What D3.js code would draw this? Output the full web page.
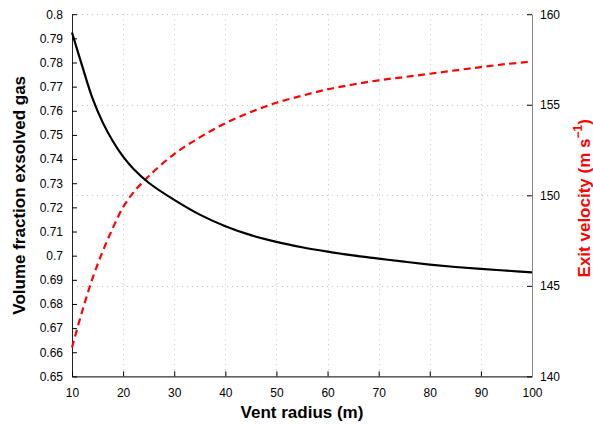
<!DOCTYPE html>
<html>
<head>
<meta charset="utf-8">
<script src="https://cdn.jsdelivr.net/npm/d3@7"></script>
<style>
  html, body { margin: 0; padding: 0; background: #fff; }
  svg { display: block; font-family: "Liberation Sans", Arial, Helvetica, sans-serif; }
</style>
</head>
<body>
<svg id="chart" width="593" height="426"></svg>
<script>
// Data
const ventRadius = [10, 12, 14, 16, 18, 20, 22, 25, 30, 35, 40, 45, 50, 55, 60, 65, 70, 75, 80, 85, 90, 95, 100];
const gasFraction = [0.7924, 0.7785, 0.7652, 0.7552, 0.7474, 0.7410, 0.7360, 0.7302, 0.7231, 0.7170, 0.7122, 0.7085, 0.7057, 0.7035, 0.7017, 0.7001, 0.6988, 0.6975, 0.6963, 0.6953, 0.6945, 0.6938, 0.6931];
const exitVelocity = [141.6, 143.6, 145.4, 146.9, 148.2, 149.35, 150.15, 151.05, 152.28, 153.2, 153.98, 154.6, 155.11, 155.5, 155.85, 156.12, 156.35, 156.53, 156.71, 156.90, 157.08, 157.25, 157.38];

const xTicks = [10, 20, 30, 40, 50, 60, 70, 80, 90, 100];
const yLeftTicks = [0.65, 0.66, 0.67, 0.68, 0.69, 0.70, 0.71, 0.72, 0.73, 0.74, 0.75, 0.76, 0.77, 0.78, 0.79, 0.80];
const yLeftLabels = ["0.65", "0.66", "0.67", "0.68", "0.69", "0.7", "0.71", "0.72", "0.73", "0.74", "0.75", "0.76", "0.77", "0.78", "0.79", "0.8"];
const yRightTicks = [140, 145, 150, 155, 160];

const xLabel = "Vent radius (m)";
const yLeftLabel = "Volume fraction exsolved gas";

(function () {
const svg = d3.select("#chart");
const pL = 72, pR = 532, pT = 14.2, pB = 376.4;

const x = d3.scaleLinear().domain([10, 100]).range([pL, pR]);
const yL = d3.scaleLinear().domain([0.65, 0.80]).range([pB, pT]);
const yR = d3.scaleLinear().domain([140, 160]).range([pB, pT]);

// Grid
const grid = svg.append("g").attr("stroke", "#c8c8c8").attr("stroke-width", 1).attr("stroke-dasharray", "1,4");
grid.selectAll("line.v").data(xTicks.filter(t => t !== 10 && t !== 100)).join("line")
  .attr("x1", d => Math.round(x(d)) + 0.5).attr("x2", d => Math.round(x(d)) + 0.5)
  .attr("y1", pT).attr("y2", pB);
grid.selectAll("line.h").data(yRightTicks.filter(t => t !== 140)).join("line")
  .attr("x1", pL).attr("x2", pR)
  .attr("y1", d => Math.round(yR(d)) + 0.5).attr("y2", d => Math.round(yR(d)) + 0.5);

// Axes
const fontSize = 12;
const axL = svg.append("g").attr("transform", `translate(${pL},0)`)
  .call(d3.axisLeft(yL).tickValues(yLeftTicks).tickSizeInner(-5).tickSizeOuter(0).tickPadding(9)
    .tickFormat((d, i) => yLeftLabels[i]));
const axB = svg.append("g").attr("transform", `translate(0,${pB})`)
  .call(d3.axisBottom(x).tickValues(xTicks).tickSizeInner(-5).tickSizeOuter(0).tickPadding(12)
    .tickFormat(d3.format("d")));
const axR = svg.append("g").attr("transform", `translate(${pR},0)`)
  .call(d3.axisRight(yR).tickValues(yRightTicks).tickSizeInner(-5).tickSizeOuter(0).tickPadding(8)
    .tickFormat(d3.format("d")));

[axL, axB, axR].forEach(a => {
  a.attr("font-family", null).attr("font-size", null);
  a.selectAll("text").attr("font-size", fontSize).attr("fill", "#000");
  a.selectAll("line").attr("stroke", "#000");
});
axL.select(".domain").attr("stroke", "#222");
axB.select(".domain").attr("stroke", "#000");
axR.select(".domain").attr("stroke", "#888");

// Lines
const lineL = d3.line().x((d, i) => x(ventRadius[i])).y(d => yL(d)).curve(d3.curveCatmullRom.alpha(0.5));
const lineR = d3.line().x((d, i) => x(ventRadius[i])).y(d => yR(d)).curve(d3.curveCatmullRom.alpha(0.5));

svg.append("path").datum(exitVelocity).attr("d", lineR)
  .attr("fill", "none").attr("stroke", "#ff0000").attr("stroke-width", 2.2)
  .attr("stroke-dasharray", "7,4.5");
svg.append("path").datum(gasFraction).attr("d", lineL)
  .attr("fill", "none").attr("stroke", "#000").attr("stroke-width", 2.2);

// Axis titles
svg.append("text").attr("x", (pL + pR) / 2).attr("y", 418)
  .attr("text-anchor", "middle").attr("font-size", 17).attr("font-weight", "bold")
  .text(xLabel);

svg.append("text").attr("transform", `translate(25,${(pT + pB) / 2}) rotate(-90)`)
  .attr("text-anchor", "middle").attr("font-size", 17).attr("font-weight", "bold")
  .text(yLeftLabel);

const rt = svg.append("text").attr("transform", `translate(590,${(pT + pB) / 2 + 3}) rotate(-90)`)
  .attr("text-anchor", "middle").attr("font-size", 17).attr("font-weight", "bold").attr("fill", "#ff0000");
rt.append("tspan").text("Exit velocity (m s");
rt.append("tspan").attr("dy", -8).attr("font-size", 12).text("\u22121");
rt.append("tspan").attr("dy", 8).text(")");
})();
</script>
</body>
</html>
